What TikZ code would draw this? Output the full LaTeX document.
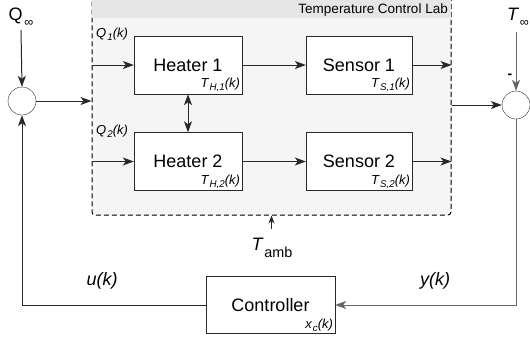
\documentclass[tikz,border=0pt]{standalone}
\usepackage{fontspec}
\setmainfont{Liberation Sans}
\usepackage{xcolor}
\usetikzlibrary{arrows.meta,positioning,calc}
\definecolor{labfill}{RGB}{245,245,245}
\definecolor{labhead}{RGB}{230,230,230}
\definecolor{wirecolor}{RGB}{40,40,40}
% lowered subscript, a bit smaller than the text round it
\newcommand{\lowsub}[1]{\kern0.08em\raisebox{-0.45ex}{\scalebox{0.75}{#1}}}

\begin{document}
\begin{tikzpicture}[x=1pt, y=-1pt,
    >={Stealth[length=11pt,width=8pt,inset=3pt]},
    block/.style={draw=wirecolor, fill=white, minimum width=108pt, minimum height=58pt,
      inner sep=0pt, font=\fontsize{18}{20}\selectfont},
    sumnode/.style={draw=wirecolor, fill=white, circle, minimum size=28pt, inner sep=0pt},
    wire/.style={draw=wirecolor, line width=1pt, ->},
    feedwire/.style={wire, draw=black!60},
    sublabel/.style={font=\fontsize{13}{14}\selectfont\itshape, inner sep=2pt},
    biglabel/.style={font=\fontsize{18}{20}\selectfont, inner sep=0pt}]
  \useasboundingbox (0,0) rectangle (530,338);

  % Temperature Control Lab (dashed frame, header band)
  \node[draw=black, dash pattern=on 5pt off 3pt, line width=1pt, fill=labfill, rounded corners=3pt,
    minimum width=359pt, minimum height=219pt, inner sep=0pt] (lab) at (271.5,105.5) {};
  \fill[labhead] ($(lab.north west)+(0.6,-0.6)$) rectangle ($(lab.north east |- 0,18)+(-0.6,0)$);
  \node[font=\fontsize{13.5}{14}\selectfont, anchor=east, inner sep=0pt] (labtitle) at (448,10)
    {Temperature Control Lab};

  % Heaters and sensors
  \node[block] (h1) at (188,65) {Heater 1};
  \node[block, minimum width=106pt] (s1) at (359,65) {Sensor 1};
  \node[block] (h2) at (188,161.5) {Heater 2};
  \node[block, minimum width=106pt] (s2) at (359,161.5) {Sensor 2};
  \node[sublabel, anchor=south east] at (h1.south east) {T\lowsub{H,1}(k)};
  \node[sublabel, anchor=south east] at (s1.south east) {T\lowsub{S,1}(k)};
  \node[sublabel, anchor=south east] at (h2.south east) {T\lowsub{H,2}(k)};
  \node[sublabel, anchor=south east] at (s2.south east) {T\lowsub{S,2}(k)};

  % Controller
  \node[block, minimum width=129pt, minimum height=57pt] (ctrl) at (270.5,305) {Controller};
  \node[sublabel, anchor=south east] at (ctrl.south east) {x\lowsub{c}(k)};

  % Summing junctions
  \node[sumnode] (sumL) at (22,101) {};
  \node[sumnode] (sumR) at (516,105) {};

  % Inputs and labels
  \node[biglabel] (qinf) at (21,17) {Q\kern0.1em\raisebox{-0.6ex}{\scalebox{0.7}{∞}}};
  \node[biglabel] (tinf) at (518,17) {\itshape T\kern0.1em\raisebox{-0.6ex}{\upshape\scalebox{0.7}{∞}}};
  \node[font=\fontsize{14}{14}\selectfont\bfseries, inner sep=0pt] (minus) at (510,76) {-};
  \node[sublabel, anchor=west] (q1) at (94,34) {Q\lowsub{1}(k)};
  \node[sublabel, anchor=west] (q2) at (94,131) {Q\lowsub{2}(k)};
  \node[biglabel] (tamb) at (272,248) {\itshape T\kern0.1em\raisebox{-0.7ex}{\upshape\scalebox{0.8}{amb}}};
  \coordinate (tambend) at (271.5,229);
  \node[biglabel, font=\fontsize{18}{20}\selectfont\itshape] (uk) at (102,281) {u(k)};
  \node[biglabel, font=\fontsize{18}{20}\selectfont\itshape] (yk) at (435,281) {y(k)};

  % Connectors
  \draw[wire] (qinf.south |- 0,30) -- (sumL.north);
  \draw[wire] (sumL.east) -- (lab.west |- sumL.east);
  \draw[wire] (lab.west |- h1) -- (h1.west);
  \draw[wire] (lab.west |- h2) -- (h2.west);
  \draw[wire] (h1.east) -- (s1.west);
  \draw[wire] (h2.east) -- (s2.west);
  \draw[wire] (s1.east) -- (lab.east |- s1);
  \draw[wire] (s2.east) -- (lab.east |- s2);
  \draw[wire, <->] (h1.south) -- (h2.north);
  \draw[wire] (lab.east |- sumR.west) -- (sumR.west);
  \draw[feedwire] (sumR.north |- 0,32) -- (sumR.north);
  \draw[wire, -{Stealth[length=8pt,width=6pt,inset=2.5pt]}] (tambend) -- (lab.south);
  \draw[feedwire] (sumR.south) |- (ctrl.east);
  \draw[wire] (ctrl.west) -| (sumL.south);

\end{tikzpicture}
\end{document}
